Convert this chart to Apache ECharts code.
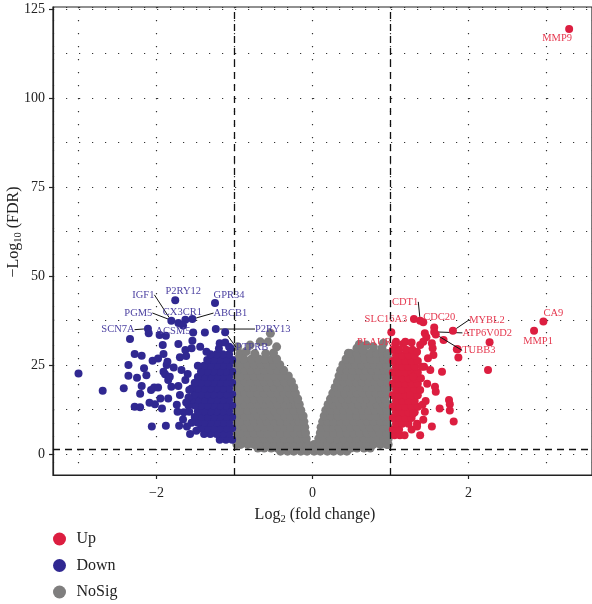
<!DOCTYPE html>
<html><head><meta charset="utf-8">
<script src="https://cdn.jsdelivr.net/npm/echarts@6/dist/echarts.min.js"></script>
<style>html,body{margin:0;padding:0;background:#fff}#c{width:592px;height:604px}</style>
</head><body><div id="c"></div>
<script>
// ---------- data ----------
const legendNames = ['Up', 'Down', 'NoSig'];
const fcThreshold = [-1, 1];
const fdrThreshold = 1.3;

// NoSig rows: [y, [x values]]
const noSigRows = [
  [0.8, [-0.41,-0.32,-0.24,-0.15,-0.07,0.02,0.10,0.19,0.27,0.36,0.44]],
  [1.7, [-0.70,-0.62,-0.53,-0.45,-0.36,-0.28,-0.19,-0.11,-0.02,0.06,0.15,0.23,0.32,0.40,0.49,0.57,0.66,0.74]],
  [2.7, [-0.97,-0.92,-0.83,-0.75,-0.66,-0.58,-0.49,-0.41,-0.32,-0.24,-0.15,-0.07,0.02,0.10,0.19,0.27,0.36,0.44,0.53,0.61,0.70,0.78,0.87,0.95,0.97]],
  [4.3, [-0.96,-0.87,-0.79,-0.70,-0.62,-0.53,-0.45,-0.36,-0.28,-0.19,-0.11,-0.08,0.08,0.15,0.23,0.32,0.40,0.49,0.57,0.66,0.74,0.83,0.91,0.97]],
  [5.9, [-0.97,-0.92,-0.83,-0.75,-0.66,-0.58,-0.49,-0.41,-0.32,-0.24,-0.15,-0.09,0.10,0.19,0.27,0.36,0.44,0.53,0.61,0.70,0.78,0.87,0.95]],
  [7.5, [-0.96,-0.87,-0.79,-0.70,-0.62,-0.53,-0.45,-0.36,-0.28,-0.19,-0.10,0.11,0.19,0.27,0.34,0.42,0.49,0.57,0.66,0.74,0.83,0.91,0.97]],
  [9.1, [-0.97,-0.92,-0.83,-0.75,-0.66,-0.58,-0.49,-0.41,-0.32,-0.24,-0.17,-0.11,0.13,0.19,0.27,0.36,0.44,0.53,0.61,0.70,0.78,0.87,0.95]],
  [10.7, [-0.96,-0.87,-0.79,-0.70,-0.62,-0.53,-0.45,-0.36,-0.28,-0.20,-0.12,0.15,0.23,0.32,0.40,0.49,0.57,0.66,0.74,0.83,0.91,0.97]],
  [12.3, [-0.97,-0.92,-0.83,-0.75,-0.66,-0.58,-0.49,-0.41,-0.32,-0.24,-0.15,0.17,0.24,0.32,0.40,0.48,0.56,0.64,0.72,0.80,0.88,0.95]],
  [13.9, [-0.96,-0.87,-0.79,-0.70,-0.62,-0.53,-0.45,-0.36,-0.28,-0.22,-0.17,0.20,0.27,0.35,0.43,0.51,0.59,0.67,0.75,0.83,0.91,0.97]],
  [15.5, [-0.97,-0.92,-0.83,-0.75,-0.66,-0.58,-0.49,-0.41,-0.32,-0.25,-0.19,0.23,0.30,0.38,0.46,0.54,0.62,0.70,0.78,0.86,0.93]],
  [17.1, [-0.96,-0.87,-0.79,-0.70,-0.62,-0.53,-0.45,-0.37,-0.29,-0.22,0.26,0.33,0.41,0.49,0.57,0.65,0.73,0.81,0.89,0.96]],
  [18.7, [-0.97,-0.92,-0.83,-0.75,-0.66,-0.58,-0.49,-0.41,-0.32,-0.24,0.29,0.37,0.45,0.53,0.61,0.69,0.77,0.85,0.93,0.97]],
  [20.3, [-0.96,-0.87,-0.79,-0.70,-0.62,-0.53,-0.45,-0.36,-0.27,0.32,0.40,0.48,0.56,0.64,0.72,0.80,0.88,0.96]],
  [21.9, [-0.97,-0.92,-0.83,-0.75,-0.66,-0.58,-0.49,-0.40,-0.31,0.34,0.42,0.50,0.58,0.66,0.74,0.82,0.90,0.97]],
  [23.5, [-0.96,-0.87,-0.79,-0.70,-0.62,-0.53,-0.45,-0.37,0.36,0.44,0.52,0.60,0.68,0.76,0.84,0.92,0.97]],
  [25.1, [-0.97,-0.92,-0.83,-0.75,-0.66,-0.58,-0.50,-0.42,0.39,0.47,0.55,0.63,0.71,0.79,0.87,0.95]],
  [26.7, [-0.96,-0.88,-0.78,-0.69,-0.61,-0.52,-0.46,0.43,0.51,0.59,0.67,0.75,0.83,0.91,0.97]],
  [28.2, [-0.93,-0.74,-0.60,0.49,0.57,0.66,0.73,0.82,0.90,0.96]]
];
const noSigExtra = [[-0.96,30.1],[-0.80,30.6],[-0.67,31.5],[-0.54,33.9],[-0.57,31.5],[-0.46,30.1],[-0.85,28.8],[-0.50,28.4],
  [0.46,28.3],[0.57,29.7],[0.65,29.2],[0.69,30.6],[0.78,30.1],[0.89,29.7],[0.91,31.1],[0.60,30.8]];

// Down rows: [y, [x values]]
const downRows = [
  [4.0, [-1.03,-1.11,-1.19]],
  [5.6, [-1.07,-1.15,-1.23,-1.31,-1.39]],
  [7.2, [-1.03,-1.11,-1.19,-1.27,-1.35,-1.43]],
  [8.8, [-1.07,-1.15,-1.23,-1.31,-1.39,-1.47,-1.55]],
  [10.4, [-1.03,-1.11,-1.19,-1.27,-1.35,-1.43,-1.51]],
  [12.0, [-1.07,-1.15,-1.23,-1.31,-1.39,-1.47]],
  [13.6, [-1.03,-1.11,-1.19,-1.27,-1.35,-1.43,-1.51,-1.59]],
  [15.2, [-1.07,-1.15,-1.23,-1.31,-1.39,-1.47,-1.55]],
  [16.8, [-1.03,-1.11,-1.19,-1.27,-1.35,-1.43,-1.51]],
  [18.4, [-1.07,-1.15,-1.23,-1.31,-1.39,-1.47,-1.55]],
  [20.0, [-1.03,-1.11,-1.19,-1.27,-1.35,-1.43,-1.51]],
  [21.6, [-1.07,-1.15,-1.23,-1.31,-1.39,-1.47]],
  [23.2, [-1.03,-1.11,-1.19,-1.27,-1.35,-1.43]],
  [24.8, [-1.07,-1.15,-1.23,-1.31,-1.39,-1.47]],
  [26.4, [-1.03,-1.11,-1.19,-1.27,-1.35]],
  [28.0, [-1.07,-1.15,-1.23,-1.31]],
  [29.6, [-1.05,-1.20]]
];
const downExtra = [[-3.0,22.6],[-2.69,17.8],[-2.42,18.5],[-2.36,25.0],[-2.36,22.0],[-2.34,32.3],[-2.28,28.1],[-2.25,21.4],
  [-2.28,13.3],[-2.21,13.1],[-2.21,16.9],[-2.19,27.6],[-2.19,19.1],[-2.16,24.1],[-2.13,22.1],[-2.10,33.9],[-2.09,14.4],
  [-2.06,7.7],[-2.07,18.0],[-2.05,26.2],[-2.03,18.7],[-2.02,14.0],[-1.98,18.7],[-1.98,26.8],[-1.96,33.4],[-1.95,15.6],
  [-1.93,12.8],[-1.92,30.6],[-1.91,28.1],[-1.91,23.1],[-1.89,22.4],[-1.88,33.2],[-1.88,7.9],[-1.87,25.0],[-1.86,25.9],
  [-1.85,15.6],[-1.85,20.8],[-1.83,21.7],[-1.81,18.9],[-1.78,24.3],[-1.74,13.8],[-1.73,11.9],[-1.72,30.9],[-1.72,19.1],
  [-1.71,7.9],[-1.70,27.2],[-1.70,16.6],[-1.68,23.6],[-1.66,9.7],[-1.65,11.7],[-1.63,29.2],[-1.63,20.8],[-1.62,27.5],
  [-1.61,7.7],[-1.59,15.9],[-1.58,11.9],[-1.57,5.6],[-1.55,29.7],[-1.54,31.8],[-1.53,34.1],[-1.38,34.1],[-1.44,30.1],
  [-1.36,28.7],[-1.19,31.1],[-1.12,31.3],[-1.07,30.1],[-1.60,22.5],[-1.58,18.0],[-1.62,14.5],[-1.49,6.5]];

// Up rows: [y, [x values]]
const upRows = [
  [5.3, [1.05,1.12,1.18]],
  [6.9, [1.03,1.11,1.27]],
  [8.5, [1.07,1.15,1.23,1.34]],
  [10.1, [1.03,1.11,1.19,1.27]],
  [11.7, [1.07,1.15,1.23,1.31]],
  [13.3, [1.03,1.11,1.19,1.27,1.35]],
  [14.9, [1.07,1.15,1.23,1.31,1.45]],
  [16.5, [1.03,1.11,1.19,1.27,1.35]],
  [18.1, [1.07,1.15,1.23,1.31]],
  [19.7, [1.03,1.11,1.19,1.27,1.35,1.47]],
  [21.3, [1.07,1.15,1.23,1.31,1.39]],
  [22.9, [1.03,1.11,1.19,1.27,1.35]],
  [24.5, [1.07,1.15,1.23,1.31,1.43]],
  [26.1, [1.03,1.11,1.19,1.27,1.35]],
  [27.7, [1.07,1.15,1.23,1.31]],
  [29.3, [1.03,1.11,1.20,1.28]],
  [30.9, [1.06,1.16]]
];
const upExtra = [[1.56,35.5],[1.68,32.0],[1.86,29.4],[1.87,27.1],[2.27,31.4],[2.25,23.6],[1.44,33.9],[1.46,32.8],
  [1.42,31.5],[1.53,31.1],[1.54,29.7],[1.55,27.8],[1.51,23.6],[1.66,23.1],[1.57,18.9],[1.58,17.5],[1.75,15.2],
  [1.76,14.0],[1.76,12.2],[1.81,9.1],[1.53,7.7],[1.63,12.8],[1.38,5.3],[1.29,11.4],[1.42,9.6],[1.44,11.9],
  [1.41,13.8],[1.34,7.7],[1.25,16.6],[1.38,18.0],[1.29,21.7],[1.40,24.5],[1.48,26.9],[1.34,28.7],[1.19,31.5],
  [1.27,31.3],[1.38,30.6],[1.07,31.5],[1.85,29.4]];

// Labelled genes: [name, log2FC, -log10 FDR]
const downGenes = [['IGF1',-1.81,37.4],['P2RY12',-1.76,43.2],['GPR34',-1.25,42.4],['PGM5',-1.72,36.8],
  ['CX3CR1',-1.63,37.7],['ABCB1',-1.54,37.9],['SCN7A',-2.11,35.2],['ACSM5',-1.66,36.1],['P2RY13',-1.24,35.1],['PTPRB',-1.12,34.2]];
const upGenes = [['MMP9',3.29,119.4],['CA9',2.96,37.2],['MMP1',2.84,34.6],['CDT1',1.38,37.4],['SLC16A3',1.30,37.9],
  ['CDC20',1.42,37.0],['MYBL2',1.80,34.6],['ATP6V0D2',1.56,34.3],['TUBB3',1.58,33.6],['PLAUR',1.01,34.2]];

// ---------- label layout (styling: pixel offsets, leader line flag) ----------
const labelStyle = {
  IGF1:[-28,-26,true], P2RY12:[8,-9,false], GPR34:[14,-8,false], PGM5:[-40,-10,true], CX3CR1:[-3,-8,false],
  ABCB1:[38,-6,true], SCN7A:[-30,1,true], ACSM5:[-10,6,false], P2RY13:[57,0,true], PTPRB:[27,15,true],
  MMP9:[-12,9,false], CA9:[10,-8,false], MMP1:[4,10,false], CDT1:[-15,-19,true], SLC16A3:[-28,0,false],
  CDC20:[16,-5,false], MYBL2:[34,-11,true], ATP6V0D2:[53,1,true], TUBB3:[43,16,true], PLAUR:[-17,10,false]
};

const FONT = "'Liberation Serif','DejaVu Serif',serif";
const C_UP = '#DC1E40', C_DOWN = '#302891', C_NS = '#7F7E7E';
const L_UP = '#E5384F', L_DOWN = '#4A3FA0';

const flatten = (rows, extra) => rows.flatMap(([y, xs]) => xs.map(x => [x, y])).concat(extra);
const noSigData = flatten(noSigRows, noSigExtra);
const downData = flatten(downRows, downExtra);
const upData = flatten(upRows, upExtra);
const geneItems = list => list.map(([n, x, y]) => ({
  name: n, value: [x, y], labelLine: { show: labelStyle[n][2] }
}));

const chart = echarts.init(document.getElementById('c'), null, { renderer: 'canvas' });
const minus = v => String(v).replace('-', '\u2212');
const X_MIN = -3.327, X_MAX = 3.583, Y_MIN = -5.9, Y_MAX = 125.56;

function geneSeries(name, list, color, labelColor) {
  return {
    name, type: 'scatter', data: geneItems(list), symbolSize: 8, z: 5,
    itemStyle: { color, opacity: 1 },
    label: { show: true, position: 'inside', formatter: '{b}', color: labelColor,
      fontFamily: FONT, fontSize: 10.5 },
    labelLine: { show: false, lineStyle: { color: '#111', width: 1 } },
    labelLayout: p => { const s = labelStyle[p.text] || [0, 0]; return { dx: s[0], dy: s[1] }; },
    emphasis: { disabled: true }
  };
}

const titleRich = {
  n: { fontFamily: FONT, fontSize: 16, lineHeight: 20, verticalAlign: 'middle', fill: '#222' },
  s: { fontFamily: FONT, fontSize: 10.5, lineHeight: 10, verticalAlign: 'bottom', fill: '#222' }
};

chart.setOption({
  animation: false,
  backgroundColor: '#fff',
  grid: { left: 53, right: 0, top: 7, bottom: 129, show: true, borderColor: '#222', borderWidth: 1.2 },
  legend: {
    data: legendNames, orient: 'vertical', left: 53, top: 531, padding: 0, itemGap: 10.5, icon: 'circle',
    itemWidth: 24, itemHeight: 13, textStyle: { fontFamily: FONT, fontSize: 16, color: '#222' }
  },
  xAxis: [
    { type: 'value', min: X_MIN, max: X_MAX, minInterval: 2, maxInterval: 2,
      axisLine: { show: true, onZero: false, lineStyle: { color: '#222', width: 1.2 } },
      axisTick: { show: true, length: 4, lineStyle: { color: '#222', width: 1.2 } },
      axisLabel: { formatter: minus, showMinLabel: false, showMaxLabel: false, margin: 11,
        fontFamily: FONT, fontSize: 14, color: '#222' },
      splitLine: { show: false } },
    { type: 'value', min: X_MIN, max: X_MAX, minInterval: 1, maxInterval: 1, position: 'bottom',
      axisLine: { show: false, onZero: false }, axisTick: { show: false }, axisLabel: { show: false },
      splitLine: { show: true, lineStyle: { type: [1.2, 11.8], color: '#333', width: 1.2 } } }
  ],
  yAxis: [
    { type: 'value', min: Y_MIN, max: Y_MAX, minInterval: 25, maxInterval: 25,
      axisLine: { show: true, onZero: false, lineStyle: { color: '#222', width: 1.2 } },
      axisTick: { show: true, length: 4, lineStyle: { color: '#222', width: 1.2 } },
      axisLabel: { showMinLabel: false, showMaxLabel: false, margin: 8,
        fontFamily: FONT, fontSize: 14, color: '#222' },
      splitLine: { show: false } },
    { type: 'value', min: Y_MIN, max: Y_MAX, minInterval: 12.5, maxInterval: 12.5, position: 'left',
      axisLine: { show: false, onZero: false }, axisTick: { show: false }, axisLabel: { show: false },
      splitLine: { show: true, lineStyle: { type: [1.2, 11.8], color: '#333', width: 1.2 } } }
  ],
  graphic: [
    { type: 'text', x: 14, y: 232, rotation: Math.PI / 2,
      style: { text: '{n|\u2212Log}{s|10}{n| (FDR)}', align: 'center', verticalAlign: 'middle', rich: titleRich } },
    { type: 'text', x: 315, y: 515,
      style: { text: '{n|Log}{s|2}{n| (fold change)}', align: 'center', verticalAlign: 'middle', rich: titleRich } }
  ],
  series: [
    { name: 'NoSig', type: 'scatter', data: noSigData, symbolSize: 9, itemStyle: { color: C_NS, opacity: 1 },
      emphasis: { disabled: true }, z: 2,
      markLine: { silent: true, symbol: ['none', 'none'], label: { show: false }, z: 10,
        lineStyle: { type: [7, 5], color: '#111', width: 1.3 },
        data: [{ xAxis: fcThreshold[0] }, { xAxis: fcThreshold[1] }, { yAxis: fdrThreshold }] } },
    { name: 'Down', type: 'scatter', data: downData, symbolSize: 8, itemStyle: { color: C_DOWN, opacity: 1 },
      emphasis: { disabled: true }, z: 3 },
    { name: 'Up', type: 'scatter', data: upData, symbolSize: 8, itemStyle: { color: C_UP, opacity: 1 },
      emphasis: { disabled: true }, z: 3 },
    geneSeries('DownGenes', downGenes, C_DOWN, L_DOWN),
    geneSeries('UpGenes', upGenes, C_UP, L_UP)
  ]
});
</script></body></html>
